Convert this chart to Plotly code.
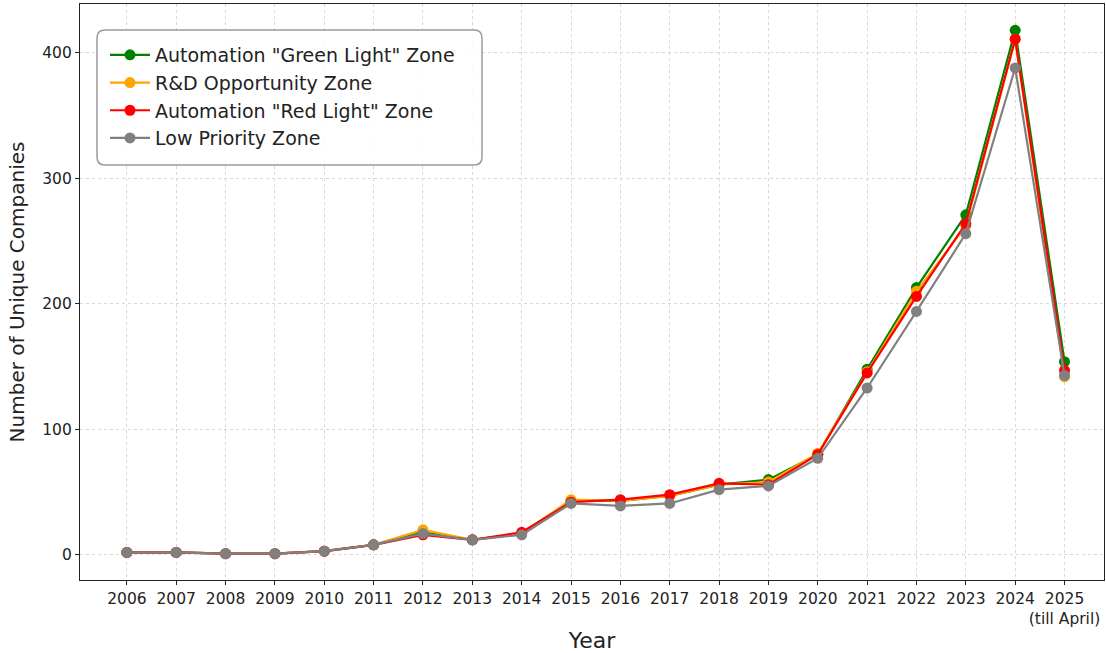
import plotly.graph_objects as go

years = list(range(2006, 2026))
tick_labels = [str(y) for y in range(2006, 2025)] + ["2025<br>(till April)"]

green_zone = [2, 2, 1, 1, 3, 8, 18, 12, 17, 43, 43, 47, 56, 60, 80, 148, 213, 271, 418, 154]
rd_zone = [2, 2, 1, 1, 3, 8, 20, 12, 17, 44, 43, 47, 56, 58, 81, 146, 210, 262, 411, 142]
red_zone = [2, 2, 1, 1, 3, 8, 16, 12, 18, 42, 44, 48, 57, 56, 80, 145, 206, 264, 411, 147]
low_zone = [2, 2, 1, 1, 3, 8, 17, 12, 16, 41, 39, 41, 52, 55, 77, 133, 194, 256, 388, 143]

series = [
    ('Automation "Green Light" Zone', green_zone, "green"),
    ("R&D Opportunity Zone", rd_zone, "orange"),
    ('Automation "Red Light" Zone', red_zone, "red"),
    ("Low Priority Zone", low_zone, "gray"),
]

fig = go.Figure()
for name, vals, color in series:
    fig.add_trace(go.Scatter(
        x=years, y=vals, name=name, mode="lines+markers",
        line=dict(color=color, width=2.2),
        marker=dict(color=color, size=11),
    ))

# plot area geometry in pixels
W, H = 1106, 653
ML, MR, MT, MB = 80, 2, 4, 73
PW, PH = W - ML - MR, H - MT - MB


def px_to_paper(px, py):
    return (px - ML) / PW, (H - MB - py) / PH


# rounded legend frame (matplotlib-like)
x0, y1 = px_to_paper(97, 30)
x1, y0 = px_to_paper(482, 165)
rx = 8 / PW
ry = 8 / PH
path = (
    f"M {x0+rx},{y0} L {x1-rx},{y0} Q {x1},{y0} {x1},{y0+ry} "
    f"L {x1},{y1-ry} Q {x1},{y1} {x1-rx},{y1} "
    f"L {x0+rx},{y1} Q {x0},{y1} {x0},{y1-ry} "
    f"L {x0},{y0+ry} Q {x0},{y0} {x0+rx},{y0} Z"
)
fig.add_shape(type="path", path=path, xref="paper", yref="paper",
              line=dict(color="#9a9a9a", width=1.5),
              fillcolor="rgba(255,255,255,0.85)", layer="above")

font_family = "DejaVu Sans, sans-serif"
lx, ly = px_to_paper(105, 36)
fig.update_layout(
    width=W, height=H,
    margin=dict(l=ML, r=MR, t=MT, b=MB),
    paper_bgcolor="white", plot_bgcolor="white",
    font=dict(family=font_family, color="#222222", size=15),
    legend=dict(
        x=lx, y=ly, xanchor="left", yanchor="top",
        bgcolor="rgba(0,0,0,0)", borderwidth=0,
        font=dict(size=19, family=font_family, color="#222222"),
        tracegroupgap=0, itemwidth=40,
    ),
    showlegend=True,
)
fig.update_xaxes(
    range=[2006 - 0.95, 2025 + 0.8],
    tickvals=years, ticktext=tick_labels, tickangle=0,
    showline=True, linecolor="#222222", linewidth=1.2, mirror=True,
    ticks="outside", ticklen=4, tickcolor="#222222",
    showgrid=True, gridcolor="#d8d8d8", griddash="dot", gridwidth=1,
    zeroline=False, automargin=False,
    title=dict(text="Year", font=dict(size=22, family=font_family, color="#222222"), standoff=14),
    tickfont=dict(size=15.5),
)
fig.update_yaxes(
    range=[-20, 439],
    tickvals=[0, 100, 200, 300, 400],
    showline=True, linecolor="#222222", linewidth=1.2, mirror=True,
    ticks="outside", ticklen=4, tickcolor="#222222",
    showgrid=True, gridcolor="#d8d8d8", griddash="dot", gridwidth=1,
    zeroline=False, automargin=False,
    title=dict(text="Number of Unique Companies", font=dict(size=20, family=font_family, color="#222222"), standoff=12),
    tickfont=dict(size=15.5),
)

fig.write_html("out.html", config={"displayModeBar": False},
               post_script="document.body.style.margin='0';")
